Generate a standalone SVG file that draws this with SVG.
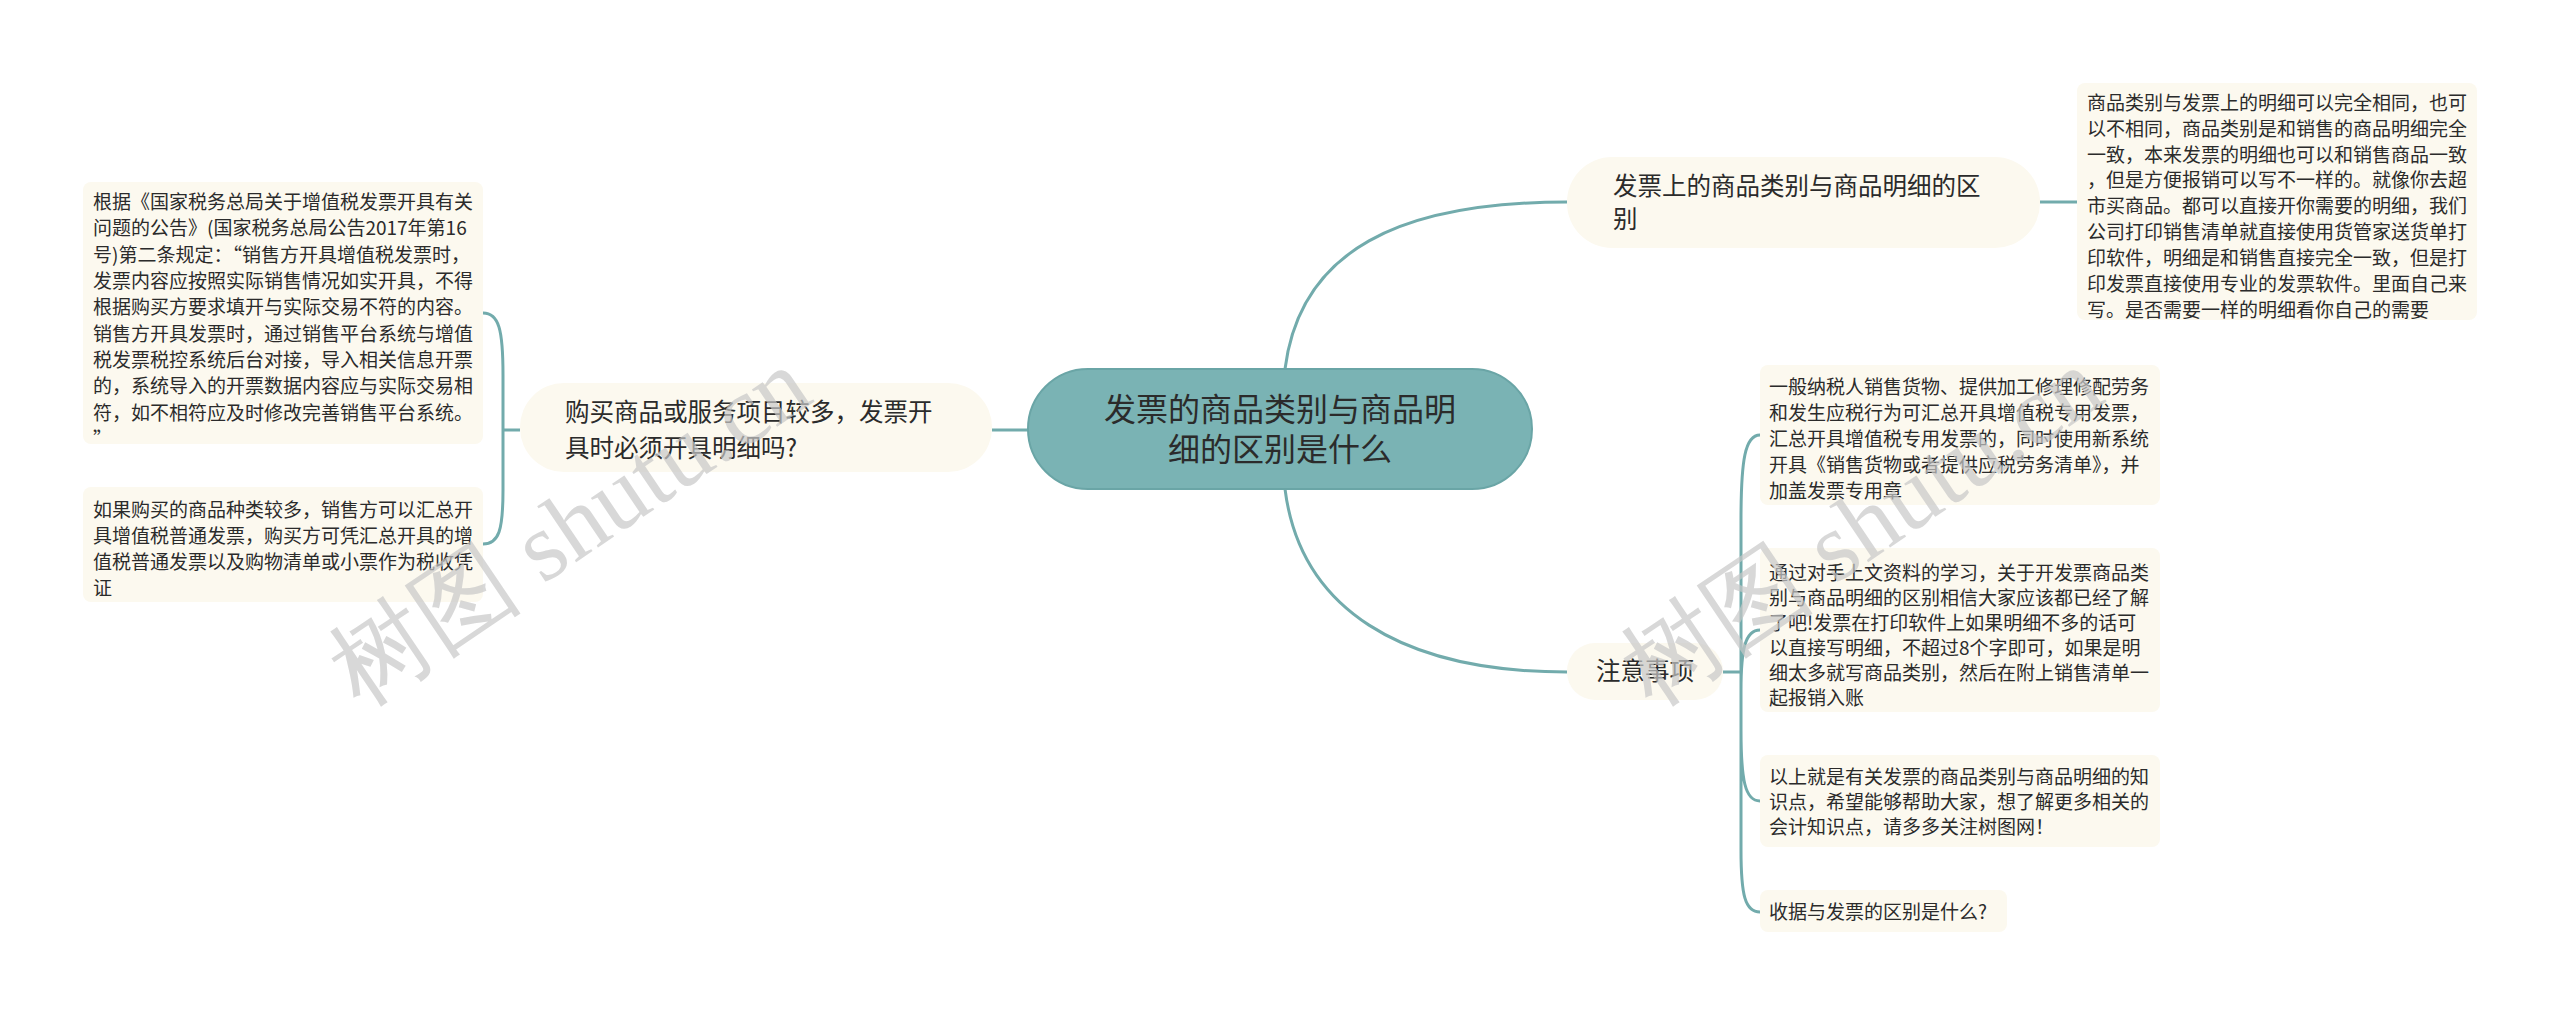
<svg xmlns="http://www.w3.org/2000/svg" width="2560" height="1015" viewBox="0 0 2560 1015">
<style>
text{font-family:"Noto Sans CJK SC","Noto Sans",sans-serif;fill:#2b2b2b}
.c{font-size:32px}
.b{font-size:24.5px}
.d{font-size:19px}
.conn{fill:none;stroke:#72abac;stroke-width:3}
.bn{fill:#fcf9ef}
.dt{fill:#fcf9ef}
.wm{font-family:"Liberation Serif",serif;font-size:98px;fill:#c8c8c8;opacity:0.7}
</style>
<rect width="2560" height="1015" fill="#ffffff"/>
<g id="connectors">
<path class="conn" d="M1285,369 C1300,250 1400,202 1567,202"/>
<path class="conn" d="M1285,489 C1300,608 1400,672 1567,672"/>
<path class="conn" d="M1028,430 H992"/>
<path class="conn" d="M2040,202 H2077"/>
<path class="conn" d="M520,430 H503 M503,430 V375 C503,330 499,313 483,313 M503,430 V490 C503,530 499,544 483,544"/>
<path class="conn" d="M1723,672 H1741 M1741,672 V520 C1741,460 1745,435 1760,435 M1741,672 V690 C1741,650 1745,630 1760,630 M1741,672 V730 C1741,780 1745,801 1760,801 M1741,672 V850 C1741,895 1745,912 1760,912"/>
</g>
<g id="center">
<rect x="1028" y="369" width="504" height="120" rx="60" fill="#7ab3b4" stroke="#6aa5a6" stroke-width="2"/>
<text class="c" x="1280" y="421" text-anchor="middle">发票的商品类别与商品明</text>
<text class="c" x="1280" y="461" text-anchor="middle">细的区别是什么</text>
</g>
<g id="branch-right-top">
<rect class="bn" x="1567" y="157" width="473" height="91" rx="45"/>
<text class="b" x="1613" y="195">发票上的商品类别与商品明细的区</text>
<text class="b" x="1613" y="228">别</text>
</g>
<g id="detail-right-top">
<rect class="dt" x="2077" y="83" width="400" height="237" rx="8"/>
<text class="d" x="2087" y="110">商品类别与发票上的明细可以完全相同，也可</text>
<text class="d" x="2087" y="136">以不相同，商品类别是和销售的商品明细完全</text>
<text class="d" x="2087" y="162">一致，本来发票的明细也可以和销售商品一致</text>
<text class="d" x="2087" y="187">，但是方便报销可以写不一样的。就像你去超</text>
<text class="d" x="2087" y="213">市买商品。都可以直接开你需要的明细，我们</text>
<text class="d" x="2087" y="239">公司打印销售清单就直接使用货管家送货单打</text>
<text class="d" x="2087" y="265">印软件，明细是和销售直接完全一致，但是打</text>
<text class="d" x="2087" y="291">印发票直接使用专业的发票软件。里面自己来</text>
<text class="d" x="2087" y="317">写。是否需要一样的明细看你自己的需要</text>
</g>
<g id="branch-left">
<rect class="bn" x="520" y="383" width="472" height="89" rx="44"/>
<text class="b" x="565" y="421">购买商品或服务项目较多，发票开</text>
<text class="b" x="565" y="457">具时必须开具明细吗?</text>
</g>
<g id="detail-left-1">
<rect class="dt" x="83" y="182" width="400" height="262" rx="8"/>
<text class="d" x="93" y="209">根据《国家税务总局关于增值税发票开具有关</text>
<text class="d" x="93" y="235">问题的公告》(国家税务总局公告2017年第16</text>
<text class="d" x="93" y="262">号)第二条规定：“销售方开具增值税发票时，</text>
<text class="d" x="93" y="288">发票内容应按照实际销售情况如实开具，不得</text>
<text class="d" x="93" y="314">根据购买方要求填开与实际交易不符的内容。</text>
<text class="d" x="93" y="341">销售方开具发票时，通过销售平台系统与增值</text>
<text class="d" x="93" y="367">税发票税控系统后台对接，导入相关信息开票</text>
<text class="d" x="93" y="393">的，系统导入的开票数据内容应与实际交易相</text>
<text class="d" x="93" y="420">符，如不相符应及时修改完善销售平台系统。</text>
<text class="d" x="93" y="446">”</text>
</g>
<g id="detail-left-2">
<rect class="dt" x="83" y="487" width="400" height="115" rx="8"/>
<text class="d" x="93" y="517">如果购买的商品种类较多，销售方可以汇总开</text>
<text class="d" x="93" y="543">具增值税普通发票，购买方可凭汇总开具的增</text>
<text class="d" x="93" y="569">值税普通发票以及购物清单或小票作为税收凭</text>
<text class="d" x="93" y="595">证</text>
</g>
<g id="branch-right-bottom">
<rect class="bn" x="1567" y="643" width="156" height="57" rx="28"/>
<text class="b" x="1645" y="680" text-anchor="middle">注意事项</text>
</g>
<g id="detail-a">
<rect class="dt" x="1760" y="365" width="400" height="140" rx="8"/>
<text class="d" x="1769" y="394">一般纳税人销售货物、提供加工修理修配劳务</text>
<text class="d" x="1769" y="420">和发生应税行为可汇总开具增值税专用发票，</text>
<text class="d" x="1769" y="446">汇总开具增值税专用发票的，同时使用新系统</text>
<text class="d" x="1769" y="472">开具《销售货物或者提供应税劳务清单》，并</text>
<text class="d" x="1769" y="498">加盖发票专用章</text>
</g>
<g id="detail-b">
<rect class="dt" x="1760" y="548" width="400" height="164" rx="8"/>
<text class="d" x="1769" y="580">通过对手上文资料的学习，关于开发票商品类</text>
<text class="d" x="1769" y="605">别与商品明细的区别相信大家应该都已经了解</text>
<text class="d" x="1769" y="630">了吧!发票在打印软件上如果明细不多的话可</text>
<text class="d" x="1769" y="655">以直接写明细，不超过8个字即可，如果是明</text>
<text class="d" x="1769" y="680">细太多就写商品类别，然后在附上销售清单一</text>
<text class="d" x="1769" y="705">起报销入账</text>
</g>
<g id="detail-c">
<rect class="dt" x="1760" y="755" width="400" height="92" rx="8"/>
<text class="d" x="1769" y="784">以上就是有关发票的商品类别与商品明细的知</text>
<text class="d" x="1769" y="809">识点，希望能够帮助大家，想了解更多相关的</text>
<text class="d" x="1769" y="834">会计知识点，请多多关注树图网！</text>
</g>
<g id="detail-d">
<rect class="dt" x="1760" y="890" width="247" height="42" rx="8"/>
<text class="d" x="1769" y="919">收据与发票的区别是什么?</text>
</g>
<g id="watermark">
<text class="wm" x="0" y="0" transform="translate(360,708) rotate(-34)">树图 shutu.cn</text>
<text class="wm" x="0" y="0" transform="translate(1652,708) rotate(-34)">树图 shutu.cn</text>
</g>
</svg>
